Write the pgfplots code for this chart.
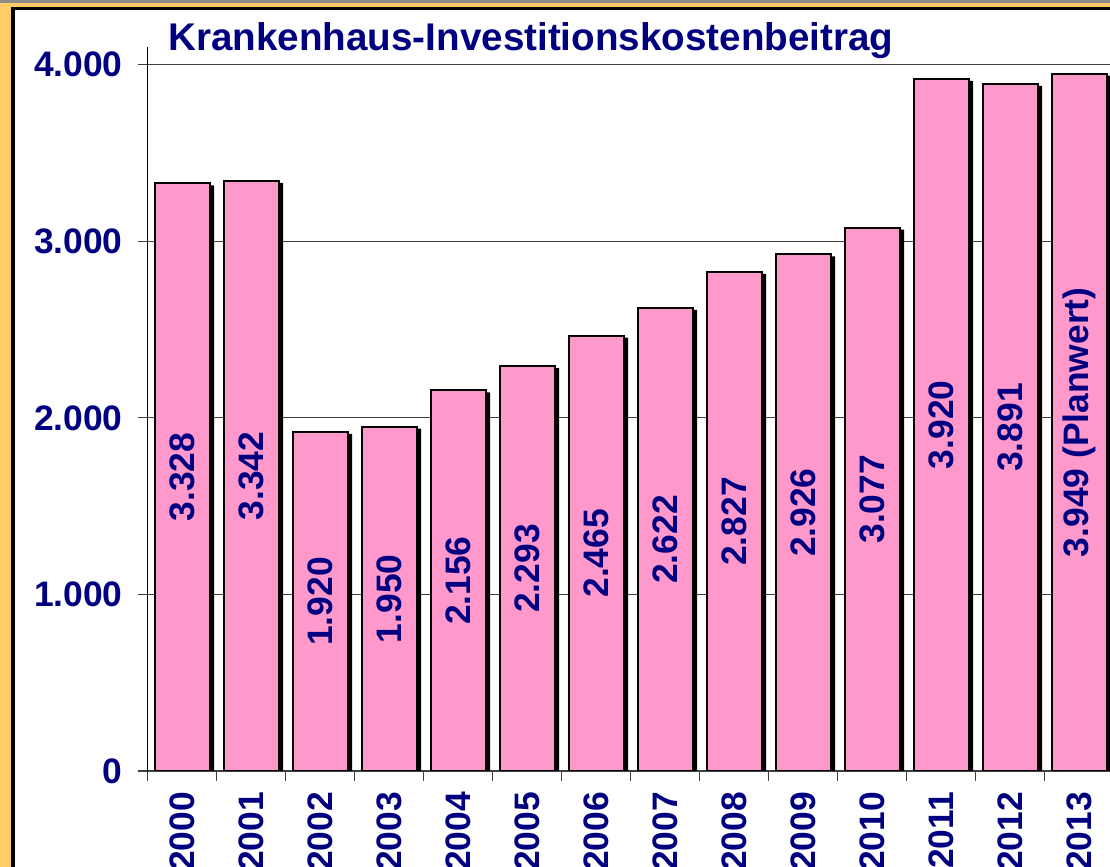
\documentclass[border=0pt]{standalone}
\usepackage{pgfplots}
\pgfplotsset{compat=1.18}
\usepackage{pgfplotstable}
\usepackage{fontspec}
\setmainfont{Liberation Sans}
\definecolor{navy}{RGB}{0,0,128}
\definecolor{barpink}{RGB}{255,153,204}
\definecolor{frameorange}{RGB}{255,204,102}
\newcommand{\lblfont}{\fontsize{17.7bp}{20bp}\selectfont\bfseries}
\pgfplotstableread{
x v label
0 3328 3.328
1 3342 3.342
2 1920 1.920
3 1950 1.950
4 2156 2.156
5 2293 2.293
6 2465 2.465
7 2622 2.622
8 2827 2.827
9 2926 2.926
10 3077 3.077
11 3920 3.920
12 3891 3.891
13 3949 {3.949 (Planwert)}
}\data
\begin{document}
\begin{tikzpicture}
\useasboundingbox (0,0) rectangle (555bp,433.5bp);
\fill[black!45] (0,0) rectangle (555bp,433.5bp);
\fill[frameorange] (0,0) rectangle (555bp,432bp);
\fill[black] (5.5bp,0) rectangle (555bp,430bp);
\fill[white] (7.5bp,0) rectangle (555bp,428.25bp);
\begin{axis}[
  at={(73.85bp,48bp)}, anchor=south west,
  scale only axis, width=483bp, height=362bp,
  xmin=-0.5, xmax=13.5, ymin=0, ymax=4100,
  axis x line*=bottom, axis y line*=left,
  x axis line style={black!75, line width=0.6bp, -},
  y axis line style={black, line width=0.6bp, -},
  ytick={0,1000,2000,3000,4000},
  ymajorgrids, major grid style={black!75, line width=0.6bp},
  tick align=outside, major tick length=5bp,
  ytick style={black!75, line width=0.6bp},
  /pgf/number format/.cd, 1000 sep={.}, assume math mode=true, fixed,
  /pgfplots/.cd,
  yticklabel style={font=\lblfont, text=navy, xshift=-4bp},
  xtick={0,...,13},
  xticklabels={2000,2001,2002,2003,2004,2005,2006,2007,2008,2009,2010,2011,2012,2013},
  xtick style={draw=none},
  xticklabel style={font=\lblfont, text=navy, rotate=90, anchor=east, yshift=-0bp, xshift=-2bp},
  extra x ticks={-0.5,0.5,...,13.5},
  extra x tick labels={},
  extra x tick style={xtick style={draw=black!75, line width=0.6bp}, grid=none},
  bar width=27.5bp,
]
\addplot[ybar, bar shift=2.2bp, yshift=-1bp, fill=black, draw=none] table[x=x, y=v] {\data};
\addplot[ybar, bar shift=0pt, fill=barpink, draw=black, line width=0.9bp] table[x=x, y=v] {\data};
\addplot[draw=none, mark=none, nodes near coords, point meta=explicit symbolic,
  nodes near coords style={rotate=90, anchor=center, font=\lblfont, text=navy}]
  table[x=x, y expr=\thisrow{v}/2, meta=label] {\data};
\end{axis}
\node[anchor=base west, font=\fontsize{19.3bp}{22bp}\selectfont\bfseries, text=navy, inner sep=0pt] at (84bp,408bp) {Krankenhaus-Investitionskostenbeitrag};
\end{tikzpicture}
\end{document}
